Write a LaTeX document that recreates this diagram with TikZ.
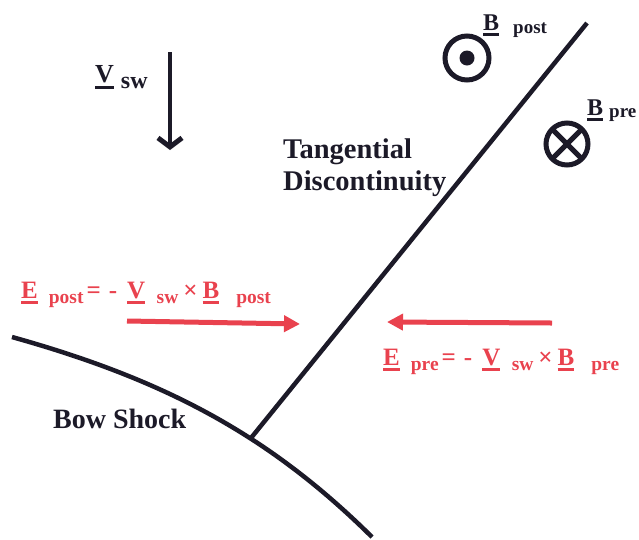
\documentclass[tikz,border=0pt]{standalone}
\usepackage{fontspec}
\setmainfont{Liberation Serif}
\usetikzlibrary{arrows.meta}
\definecolor{ered}{RGB}{233,66,78}
\definecolor{ink}{RGB}{28,26,40}
\newcommand\ulcap[2][-6pt]{\leavevmode\setbox0=\hbox{#2}\rlap{\rule[#1]{\wd0}{2.6pt}}\box0}
\newcommand\sbs[3][4pt]{\raisebox{-#1}{\fontsize{#2}{#2}\selectfont #3}}
\tikzset{
  lab/.style={font=\bfseries\fontsize{28.5}{32}\selectfont, text=ink, inner sep=0pt, anchor=base west, align=left},
  blk/.style={font=\bfseries\fontsize{24}{24}\selectfont, text=ink, inner sep=0pt, anchor=base west},
  eq/.style={font=\bfseries\fontsize{25}{25}\selectfont, text=ered, inner sep=0pt, anchor=base west},
  bline/.style={draw=ink, line width=4.5pt},
  rarrow/.style={draw=ered, line width=5pt, -{Triangle[length=16pt,width=16pt]}},
  fieldsym/.style={circle, draw=ink, line width=5pt, inner sep=0pt, outer sep=0pt}
}
\begin{document}
\begin{tikzpicture}[x=1pt,y=-1pt]
\useasboundingbox (0,0) rectangle (639,539);
% bow shock and tangential discontinuity
\coordinate (bs1) at (12,337);
\coordinate (bs2) at (372,537);
\coordinate (tdb) at (251,438);
\coordinate (tdt) at (587,23);
\draw[bline] (bs1) .. controls (162,379) and (267,433) .. (bs2);
\draw[bline] (tdb) -- (tdt);
% solar wind arrow
\coordinate (vs) at (170,52);
\coordinate (ve) at (170,150);
\draw[bline, -{Straight Barb[length=9pt,width=24pt,line width=5pt]}] (vs) -- (ve);
\node[blk, font=\bfseries\fontsize{26}{26}\selectfont] (vsl) at (95,82) {\ulcap[-7pt]{V}\hspace{7pt}\sbs[6pt]{24}{sw}};
% field symbols
\node[fieldsym, minimum size=44pt] (bpost) at (467,58) {};
\fill[ink] (bpost.center) circle (7.5pt);
\node[fieldsym, minimum size=42pt] (bpre) at (567,144) {};
\draw[ink, line width=5pt] (bpre.north west) -- (bpre.south east);
\draw[ink, line width=5pt] (bpre.north east) -- (bpre.south west);
\node[blk] (bpostl) at (483,30) {\ulcap{B}\hspace{14pt}\sbs[3pt]{19}{post}};
\node[blk] (bprel) at (587,115) {\ulcap{B}\hspace{6pt}\sbs[2pt]{19}{pre}};
% labels
\node[lab] (tdl) at (283,190) {Tangential\\Discontinuity};
\node[lab, font=\bfseries\fontsize{28}{32}\selectfont] (bsl) at (53,428) {Bow Shock};
% electric field
\node[eq] (epost) at (21,298) {\ulcap{E}\hspace{11pt}\sbs[5pt]{19.5}{post}\hspace{3pt}=\hspace{8pt}-\hspace{10pt}\ulcap{V}\hspace{11.5pt}\sbs[5pt]{19.5}{sw}\hspace{5pt}×\hspace{5pt}\ulcap{B}\hspace{17pt}\sbs[5pt]{19.5}{post}};
\node[eq] (epre) at (383,365) {\ulcap{E}\hspace{11pt}\sbs[5pt]{19.5}{pre}\hspace{3pt}=\hspace{8pt}-\hspace{10pt}\ulcap{V}\hspace{11.5pt}\sbs[5pt]{19.5}{sw}\hspace{5pt}×\hspace{5pt}\ulcap{B}\hspace{17pt}\sbs[5pt]{19.5}{pre}};
\coordinate (ap1) at (127,321);
\coordinate (ap2) at (300,324);
\coordinate (aq1) at (552,323);
\coordinate (aq2) at (387,322);
\draw[rarrow] (ap1) -- (ap2);
\draw[rarrow] (aq1) -- (aq2);
\end{tikzpicture}
\end{document}
